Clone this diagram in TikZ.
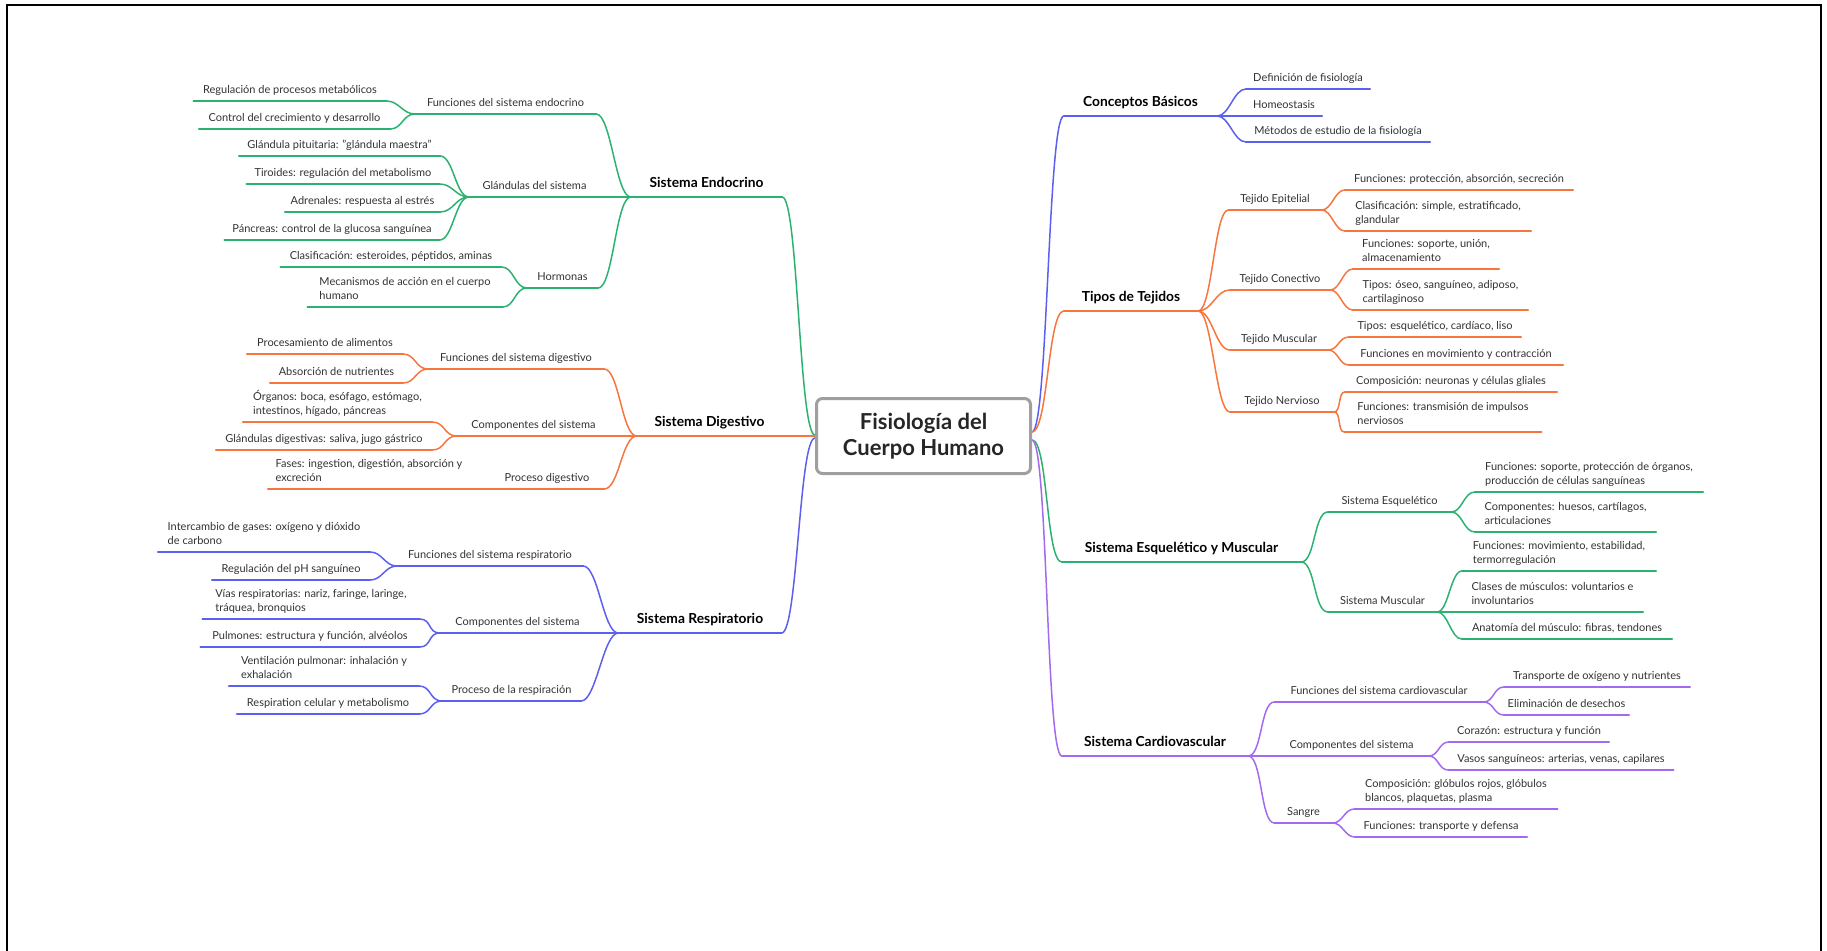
\documentclass[tikz,border=0pt]{standalone}
\usepackage{fontspec}
\setmainfont{Lato}
\definecolor{cblue}{RGB}{92,96,238}
\definecolor{corange}{RGB}{247,118,62}
\definecolor{cgreen}{RGB}{44,178,112}
\definecolor{cpurple}{RGB}{163,106,238}
\definecolor{txt}{RGB}{50,50,50}
\pgfdeclarelayer{background}
\pgfsetlayers{background,main}
\tikzset{
 br/.style={line width=1.5pt, line cap=round},
 leaf/.style={anchor=south, inner xsep=0pt, inner ysep=3.3pt, align=left, text=txt, font=\fontsize{11}{14}\selectfont},
 lvl1/.style={anchor=south, inner xsep=0pt, inner ysep=4.6pt, align=left, text=black, font=\fontsize{13.8}{16}\selectfont\bfseries},
 rootbox/.style={draw=gray!75, line width=3pt, rounded corners=6pt, fill=white, minimum width=214pt, minimum height=75pt, align=center, font=\fontsize{22}{26}\selectfont\bfseries, text=black!85},
 frame/.style={line width=2.5pt, black}
}
\newcommand\mmul[1]{\draw[br] (#1.south west) -- (#1.south east);}
\newcommand\mmrc[3]{\draw[br] (#1.south east) .. controls +(#3,0) and +(-#3,0) .. (#2.south west);}
\newcommand\mmlc[3]{\draw[br] (#1.south west) .. controls +(-#3,0) and +(#3,0) .. (#2.south east);}
\begin{document}
\begin{tikzpicture}[x=1pt,y=-1pt]
\useasboundingbox (0,0) rectangle (1827,950);
\coordinate (f1) at (7,952);
\coordinate (f2) at (7,5);
\coordinate (f3) at (1821,5);
\coordinate (f4) at (1821,952);
\draw[frame] (f1) -- (f2) -- (f3) -- (f4);

\node[rootbox] (root) at (923.5,436) {Fisiología del\\Cuerpo Humano};

% ---------------- Sistema Endocrino
\begin{scope}[color=cgreen]
\node[lvl1, minimum width=151pt] (E) at (706.5,197) {Sistema Endocrino\strut};
\node[leaf, minimum width=181pt] (E1) at (505.5,114) {Funciones del sistema endocrino\strut};
\node[leaf, minimum width=193pt] (E11) at (290,101) {Regulación de procesos metabólicos\strut};
\node[leaf, minimum width=191pt] (E12) at (294.5,129) {Control del crecimiento y desarrollo\strut};
\node[leaf, minimum width=131pt] (E2) at (534.5,197) {Glándulas del sistema\strut};
\node[leaf, minimum width=201pt] (E21) at (339.5,156) {Glándula pituitaria: "glándula maestra"\strut};
\node[leaf, minimum width=193pt] (E22) at (343,184) {Tiroides: regulación del metabolismo\strut};
\node[leaf, minimum width=155pt] (E23) at (362.5,212) {Adrenales: respuesta al estrés\strut};
\node[leaf, minimum width=215pt] (E24) at (332,240) {Páncreas: control de la glucosa sanguínea\strut};
\node[leaf, minimum width=71pt] (E3) at (562.5,288) {Hormonas\strut};
\node[leaf, minimum width=221pt] (E31) at (391,267) {Clasificación: esteroides, péptidos, aminas\strut};
\node[leaf, minimum width=195pt] (E32) at (405,307) {Mecanismos de acción en el cuerpo\\humano\strut};
\foreach \n in {E,E1,E11,E12,E2,E21,E22,E23,E24,E3,E31,E32} {\mmul{\n}}
\mmlc{E}{E1}{15}
\draw[br] (E.south west) -- (E2.south east);
\mmlc{E}{E3}{15}
\mmlc{E1}{E11}{12}
\mmlc{E1}{E12}{12}
\mmlc{E2}{E21}{13}
\mmlc{E2}{E22}{13}
\mmlc{E2}{E23}{13}
\mmlc{E2}{E24}{13}
\mmlc{E3}{E31}{12}
\mmlc{E3}{E32}{12}
\end{scope}

% ---------------- Sistema Digestivo
\begin{scope}[color=corange]
\node[lvl1, minimum width=145pt] (D) at (709.5,436) {Sistema Digestivo\strut};
\node[leaf, minimum width=176pt] (D1) at (516,369) {Funciones del sistema digestivo\strut};
\node[leaf, minimum width=156pt] (D11) at (325,354) {Procesamiento de alimentos\strut};
\node[leaf, minimum width=133pt] (D12) at (336.5,383) {Absorción de nutrientes\strut};
\node[leaf, minimum width=153pt] (D2) at (533.5,436) {Componentes del sistema\strut};
\node[leaf, minimum width=189pt] (D21) at (337.5,422) {Órganos: boca, esófago, estómago,\\intestinos, hígado, páncreas\strut};
\node[leaf, minimum width=216pt] (D22) at (324,450) {Glándulas digestivas: saliva, jugo gástrico\strut};
\node[leaf, minimum width=114pt] (D3) at (547,489) {Proceso digestivo\strut};
\node[leaf, minimum width=202pt] (D31) at (369,489) {Fases: ingestion, digestión, absorción y\\excreción\strut};
\foreach \n in {D,D1,D11,D12,D2,D21,D22,D3,D31} {\mmul{\n}}
\mmlc{D}{D1}{15}
\draw[br] (D.south west) -- (D2.south east);
\mmlc{D}{D3}{15}
\mmlc{D1}{D11}{12}
\mmlc{D1}{D12}{12}
\mmlc{D2}{D21}{13}
\mmlc{D2}{D22}{13}
\draw[br] (D3.south west) -- (D31.south east);
\end{scope}

% ---------------- Sistema Respiratorio
\begin{scope}[color=cblue]
\node[lvl1, minimum width=163pt] (R) at (700,633) {Sistema Respiratorio\strut};
\node[leaf, minimum width=186pt] (R1) at (490,566) {Funciones del sistema respiratorio\strut};
\node[leaf, minimum width=212pt] (R11) at (264,552) {Intercambio de gases: oxígeno y dióxido\\de carbono\strut};
\node[leaf, minimum width=158pt] (R12) at (291,580) {Regulación del pH sanguíneo\strut};
\node[leaf, minimum width=155pt] (R2) at (517.5,633) {Componentes del sistema\strut};
\node[leaf, minimum width=217pt] (R21) at (311,619) {Vías respiratorias: nariz, faringe, laringe,\\tráquea, bronquios\strut};
\node[leaf, minimum width=219pt] (R22) at (310,647) {Pulmones: estructura y función, alvéolos\strut};
\node[leaf, minimum width=139pt] (R3) at (511.5,701) {Proceso de la respiración\strut};
\node[leaf, minimum width=190pt] (R31) at (324,686) {Ventilación pulmonar: inhalación y\\exhalación\strut};
\node[leaf, minimum width=182pt] (R32) at (328,714) {Respiration celular y metabolismo\strut};
\foreach \n in {R,R1,R11,R12,R2,R21,R22,R3,R31,R32} {\mmul{\n}}
\mmlc{R}{R1}{15}
\draw[br] (R.south west) -- (R2.south east);
\mmlc{R}{R3}{15}
\mmlc{R1}{R11}{12}
\mmlc{R1}{R12}{12}
\mmlc{R2}{R21}{12}
\mmlc{R2}{R22}{12}
\mmlc{R3}{R31}{12}
\mmlc{R3}{R32}{12}
\end{scope}

% ---------------- Conceptos Basicos
\begin{scope}[color=cblue]
\node[lvl1, minimum width=153pt] (C) at (1140.5,116) {Conceptos Básicos\strut};
\node[leaf, minimum width=124pt] (C1) at (1308,89) {Definición de fisiología\strut};
\node[leaf, minimum width=76pt] (C2) at (1284,116) {Homeostasis\strut};
\node[leaf, minimum width=184pt] (C3) at (1338,142) {Métodos de estudio de la fisiología\strut};
\foreach \n in {C,C1,C2,C3} {\mmul{\n}}
\mmrc{C}{C1}{12}
\draw[br] (C.south east) -- (C2.south west);
\mmrc{C}{C3}{12}
\end{scope}

% ---------------- Tipos de Tejidos
\begin{scope}[color=corange]
\node[lvl1, minimum width=134pt] (T) at (1131,311) {Tipos de Tejidos\strut};
\node[leaf, minimum width=93pt] (T1) at (1275,210) {Tejido Epitelial\strut};
\node[leaf, minimum width=228pt] (T11) at (1459,190) {Funciones: protección, absorción, secreción\strut};
\node[leaf, minimum width=186pt] (T12) at (1438,231) {Clasificación: simple, estratificado,\\glandular\strut};
\node[leaf, minimum width=100pt] (T2) at (1280,290) {Tejido Conectivo\strut};
\node[leaf, minimum width=146pt] (T21) at (1426,269) {Funciones: soporte, unión,\\almacenamiento\strut};
\node[leaf, minimum width=175pt] (T22) at (1440.5,310) {Tipos: óseo, sanguíneo, adiposo,\\cartilaginoso\strut};
\node[leaf, minimum width=98pt] (T3) at (1279,350) {Tejido Muscular\strut};
\node[leaf, minimum width=172pt] (T31) at (1435,337) {Tipos: esquelético, cardíaco, liso\strut};
\node[leaf, minimum width=214pt] (T32) at (1456,365) {Funciones en movimiento y contracción\strut};
\node[leaf, minimum width=104pt] (T4) at (1282,412) {Tejido Nervioso\strut};
\node[leaf, minimum width=212pt] (T41) at (1451,392) {Composición: neuronas y células gliales\strut};
\node[leaf, minimum width=197pt] (T42) at (1443,432) {Funciones: transmisión de impulsos\\nerviosos\strut};
\foreach \n in {T,T1,T11,T12,T2,T21,T22,T3,T31,T32,T4,T41,T42} {\mmul{\n}}
\mmrc{T}{T1}{14}
\mmrc{T}{T2}{14}
\mmrc{T}{T3}{14}
\mmrc{T}{T4}{14}
\mmrc{T1}{T11}{10}
\mmrc{T1}{T12}{10}
\mmrc{T2}{T21}{10}
\mmrc{T2}{T22}{10}
\mmrc{T3}{T31}{10}
\mmrc{T3}{T32}{10}
\mmrc{T4}{T41}{7}
\mmrc{T4}{T42}{7}
\end{scope}

% ---------------- Sistema Esqueletico y Muscular
\begin{scope}[color=cgreen]
\node[lvl1, minimum width=239pt] (S) at (1181.5,562) {Sistema Esquelético y Muscular\strut};
\node[leaf, minimum width=123pt] (S1) at (1389.5,512) {Sistema Esquelético\strut};
\node[leaf, minimum width=228pt] (S11) at (1589,492) {Funciones: soporte, protección de órganos,\\producción de células sanguíneas\strut};
\node[leaf, minimum width=181pt] (S12) at (1565.5,532) {Componentes: huesos, cartílagos,\\articulaciones\strut};
\node[leaf, minimum width=109pt] (S2) at (1382.5,612) {Sistema Muscular\strut};
\node[leaf, minimum width=194pt] (S21) at (1559,571) {Funciones: movimiento, estabilidad,\\termorregulación\strut};
\node[leaf, minimum width=181pt] (S22) at (1552.5,612) {Clases de músculos: voluntarios e\\involuntarios\strut};
\node[leaf, minimum width=210pt] (S23) at (1567,639) {Anatomía del músculo: fibras, tendones\strut};
\foreach \n in {S,S1,S11,S12,S2,S21,S22,S23} {\mmul{\n}}
\mmrc{S}{S1}{14}
\mmrc{S}{S2}{14}
\mmrc{S1}{S11}{11}
\mmrc{S1}{S12}{11}
\mmrc{S2}{S21}{11}
\draw[br] (S2.south east) -- (S22.south west);
\mmrc{S2}{S23}{11}
\end{scope}

% ---------------- Sistema Cardiovascular
\begin{scope}[color=cpurple]
\node[lvl1, minimum width=186pt] (V) at (1155,756) {Sistema Cardiovascular\strut};
\node[leaf, minimum width=209pt] (V1) at (1379,702) {Funciones del sistema cardiovascular\strut};
\node[leaf, minimum width=186pt] (V11) at (1597,687) {Transporte de oxígeno y nutrientes\strut};
\node[leaf, minimum width=125pt] (V12) at (1566.5,715) {Eliminación de desechos\strut};
\node[leaf, minimum width=154pt] (V2) at (1351.5,756) {Componentes del sistema\strut};
\node[leaf, minimum width=160pt] (V21) at (1529,742) {Corazón: estructura y función\strut};
\node[leaf, minimum width=225pt] (V22) at (1561,770) {Vasos sanguíneos: arterias, venas, capilares\strut};
\node[leaf, minimum width=58pt] (V3) at (1303.5,823) {Sangre\strut};
\node[leaf, minimum width=203pt] (V31) at (1456,809) {Composición: glóbulos rojos, glóbulos\\blancos, plaquetas, plasma\strut};
\node[leaf, minimum width=172pt] (V32) at (1441,837) {Funciones: transporte y defensa\strut};
\foreach \n in {V,V1,V11,V12,V2,V21,V22,V3,V31,V32} {\mmul{\n}}
\mmrc{V}{V1}{14}
\draw[br] (V.south east) -- (V2.south west);
\mmrc{V}{V3}{14}
\mmrc{V1}{V11}{10}
\mmrc{V1}{V12}{10}
\mmrc{V2}{V21}{10}
\mmrc{V2}{V22}{10}
\mmrc{V3}{V31}{10}
\mmrc{V3}{V32}{10}
\end{scope}

% ---------------- connectors to the central topic (behind it)
\begin{pgfonlayer}{background}
\draw[br, cgreen] (E.south east) .. controls +(16,0) and +(-16,0) .. ([yshift=1pt]root.west);
\draw[br, corange] (D.south east) -- (root.west);
\draw[br, cblue] (R.south east) .. controls +(16,0) and +(-16,0) .. ([yshift=-2pt]root.west);
\draw[br, cblue] ([yshift=4pt]root.east) .. controls +(16,0) and +(-16,0) .. (C.south west);
\draw[br, corange] ([yshift=4pt]root.east) .. controls +(16,0) and +(-16,0) .. (T.south west);
\draw[br, cgreen] ([yshift=-4pt]root.east) .. controls +(16,0) and +(-16,0) .. (S.south west);
\draw[br, cpurple] ([yshift=-4pt]root.east) .. controls +(16,0) and +(-16,0) .. (V.south west);
\end{pgfonlayer}
\end{tikzpicture}
\end{document}
